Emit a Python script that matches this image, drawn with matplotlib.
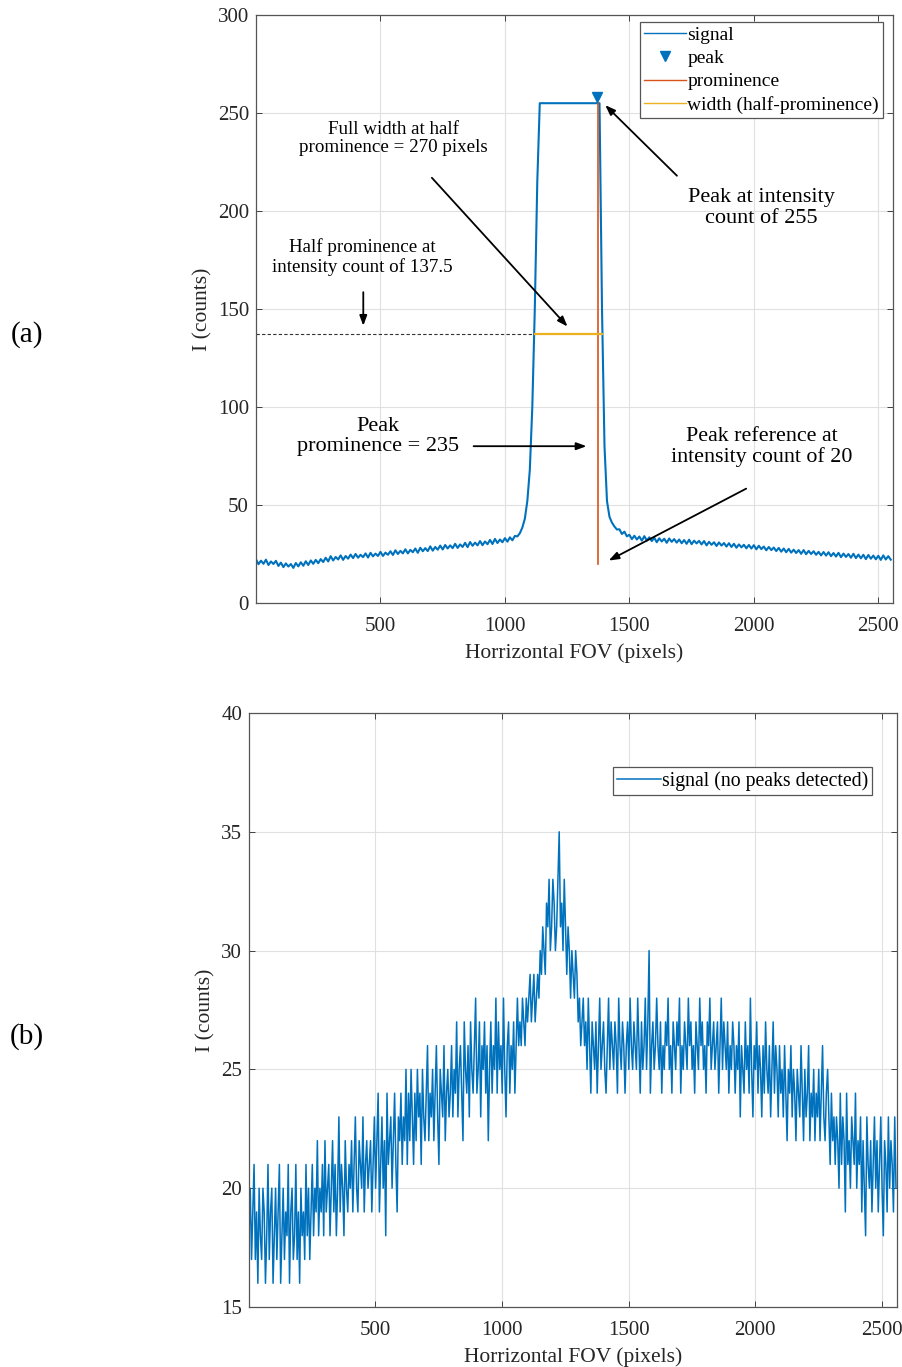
import numpy as np
import matplotlib
matplotlib.use("Agg")
import matplotlib.pyplot as plt
from matplotlib.lines import Line2D

plt.rcParams['font.family'] = ['Liberation Serif', 'DejaVu Serif']

BLUE = '#0072BD'
ORANGE = '#D95319'
YELLOW = '#EDB120'
AXC = '#262626'

# (a) line profile with a saturated peak, one sample every 10 pixels
sig_a = [
    22.3, 19.8, 21.6, 20.0, 22.1, 19.4, 21.2, 19.9, 21.5, 18.9,
    20.6, 18.3, 20.2, 18.6, 19.9, 17.9, 20.4, 18.7, 20.8, 19.0,
    21.3, 19.4, 21.7, 20.0, 22.0, 20.3, 22.4, 20.9, 23.1, 21.2,
    23.9, 21.7, 23.5, 22.2, 24.3, 22.0, 24.0, 22.6, 24.7, 22.9,
    25.0, 23.1, 24.6, 23.4, 25.3, 23.2, 25.6, 23.8, 25.2, 24.0,
    26.1, 24.0, 25.7, 24.6, 26.4, 24.5, 26.9, 25.0, 26.6, 25.3,
    27.4, 25.3, 27.1, 25.9, 27.8, 25.6, 28.2, 26.4, 28.0, 26.5,
    28.9, 26.7, 28.6, 27.2, 29.3, 27.3, 29.6, 27.8, 29.4, 28.0,
    30.2, 28.1, 29.9, 28.6, 30.7, 28.5, 31.1, 29.2, 30.8, 29.4,
    31.6, 29.5, 31.4, 30.0, 32.2, 30.1, 32.7, 30.6, 32.4, 31.0,
    33.1, 31.3, 33.5, 32.0, 34.2, 34.0, 35.6,
    38.5, 43.0, 52.0, 68.0, 100.0, 150.0, 215.0,
    255, 255, 255, 255, 255, 255, 255, 255, 255, 255,
    255, 255, 255, 255, 255, 255, 255, 255, 255, 255,
    255, 255, 255, 255, 255,
    150.0, 80.0, 52.0, 44.0, 41.0, 39.0, 37.5, 37.6, 35.2, 36.4, 34.0,
    34.8, 32.6, 34.3, 32.4, 33.9, 31.8, 34.1, 31.9, 33.5, 31.6,
    33.3, 31.0, 33.0, 31.4, 32.8, 30.7, 32.9, 31.2, 32.6, 30.8,
    32.4, 30.5, 32.1, 30.2, 32.3, 30.0, 31.8, 30.4, 31.7, 29.9,
    31.6, 29.4, 31.2, 29.7, 31.0, 29.1, 30.9, 29.3, 30.6, 28.8,
    30.5, 28.6, 30.2, 28.2, 29.9, 28.4, 29.7, 27.9, 29.6, 27.8,
    29.5, 27.4, 29.2, 27.5, 28.8, 26.9, 28.6, 27.0, 28.3, 26.5,
    28.1, 26.2, 27.8, 25.9, 27.6, 25.7, 27.2, 25.5, 27.0, 25.1,
    27.0, 24.9, 26.6, 25.0, 26.4, 24.6, 26.1, 24.3, 26.0, 24.2,
    25.9, 23.9, 25.5, 23.7, 25.6, 23.4, 25.2, 23.5, 25.0, 23.1,
    25.1, 22.9, 24.7, 22.8, 24.6, 22.4, 24.5, 22.6, 24.2, 22.3,
    24.1, 22.0, 24.3, 22.2, 23.9, 22.1,
]

# (b) line profile without a detectable peak (integer counts), one sample every 5 pixels
sig_b = [
    18, 20, 17, 19, 21, 17, 19, 16, 20, 18, 17, 20, 19, 16, 18, 21,
    17, 19, 20, 16, 18, 20, 17, 19, 21, 16, 18, 20, 17, 19, 18, 21,
    16, 19, 20, 17, 18, 21, 17, 19, 16, 20, 18, 19, 17, 21, 18, 20,
    17, 19, 21, 18, 20, 19, 22, 18, 20, 19, 21, 18, 22, 19, 20, 21,
    18, 20, 22, 19, 21, 18, 20, 23, 19, 21, 20, 18, 22, 20, 19, 21,
    20, 22, 19, 21, 23, 20, 19, 22, 21, 20, 23, 19, 21, 22, 20, 21,
    22, 19, 21, 23, 20, 22, 24, 19, 21, 23, 20, 22, 18, 24, 21, 22,
    23, 20, 22, 24, 21, 19, 23, 22, 24, 21, 23, 22, 25, 21, 24, 22,
    25, 23, 21, 24, 22, 25, 23, 24, 21, 25, 23, 22, 24, 26, 22, 24,
    23, 25, 22, 24, 26, 23, 21, 25, 24, 23, 26, 22, 24, 25, 23, 24,
    26, 23, 25, 24, 27, 23, 25, 26, 24, 22, 27, 25, 24, 26, 23, 27,
    25, 24, 26, 28, 24, 25, 27, 23, 26, 25, 27, 24, 26, 22, 25, 27,
    24, 26, 25, 28, 24, 27, 25, 26, 24, 28, 25, 23, 26, 27, 24, 26,
    25, 27, 24, 26, 28, 26, 27, 26, 28, 27, 26, 28, 27, 28, 29, 27,
    28, 29, 27, 28, 29, 28, 30, 29, 31, 30, 29, 32, 31, 33, 30, 31,
    33, 32, 30, 31, 33, 35, 31, 32, 30, 33, 31, 29, 31, 30, 28, 30,
    29, 28, 30, 29, 27, 28, 26, 27, 28, 26, 27, 25, 28, 26, 24, 27,
    26, 25, 27, 24, 26, 28, 25, 26, 27, 25, 24, 26, 28, 25, 27, 26,
    25, 27, 26, 24, 28, 26, 25, 27, 26, 24, 26, 27, 25, 28, 26, 25,
    27, 26, 25, 28, 26, 24, 27, 25, 26, 28, 25, 27, 30, 24, 26, 27,
    25, 26, 28, 26, 25, 27, 24, 26, 25, 27, 26, 28, 25, 26, 24, 27,
    26, 25, 27, 26, 28, 24, 26, 25, 27, 26, 25, 28, 26, 27, 25, 26,
    24, 27, 26, 25, 28, 26, 27, 25, 26, 24, 27, 26, 28, 25, 26, 27,
    25, 26, 27, 24, 26, 28, 25, 27, 26, 25, 27, 24, 26, 25, 27, 26,
    24, 26, 25, 27, 23, 26, 25, 24, 27, 25, 26, 24, 28, 25, 23, 26,
    25, 27, 24, 26, 25, 23, 26, 24, 27, 25, 24, 26, 23, 25, 27, 24,
    26, 25, 23, 26, 24, 25, 23, 26, 24, 22, 25, 24, 26, 23, 25, 24,
    22, 25, 24, 23, 26, 24, 22, 25, 23, 24, 26, 22, 24, 23, 25, 22,
    24, 23, 25, 22, 24, 26, 23, 22, 24, 25, 23, 21, 24, 22, 23, 21,
    23, 22, 20, 24, 21, 23, 22, 19, 24, 21, 22, 20, 23, 22, 21, 24,
    20, 22, 21, 23, 19, 22, 20, 18, 23, 21, 20, 22, 19, 21, 23, 20,
    22, 19, 21, 23, 20, 18, 22, 21, 19, 23, 20, 22, 21, 19, 23, 20,
]

peak_x, peak_y = 1376, 255
ref_y = 20
half_y = 137.5
width_x = [1122, 1392]

x_a = 1 + 10 * np.arange(len(sig_a))
x_b = 1 + 5 * np.arange(len(sig_b))


def style_axes(ax, ylim, yticks):
    ax.set_xlim(1, 2560)
    ax.set_ylim(*ylim)
    ax.set_xticks([500, 1000, 1500, 2000, 2500])
    ax.set_yticks(yticks)
    ax.grid(True, color='#e0e0e0', lw=0.8)
    ax.set_axisbelow(True)
    ax.tick_params(direction='in', top=True, right=True, length=4,
                   color=AXC, labelcolor=AXC, labelsize=15, width=0.6)
    ax.tick_params(axis='x', pad=10)
    ax.tick_params(axis='y', pad=5)
    for s in ax.spines.values():
        s.set_color('#555555')
        s.set_linewidth(0.9)
    ax.set_xlabel('Horrizontal FOV (pixels)', fontsize=15.5, color=AXC, labelpad=5)
    ax.set_ylabel('I (counts)', fontsize=15.5, color=AXC, labelpad=4)


fig = plt.figure(figsize=(9.02, 13.67), dpi=100)
W, H = 902, 1367
ax1 = fig.add_axes([256 / W, 1 - 603 / H, (893 - 256) / W, (603 - 15) / H])
ax2 = fig.add_axes([249 / W, 1 - 1307 / H, (897 - 249) / W, (1307 - 713) / H])

# ---- (a) ----
style_axes(ax1, (0, 300), [0, 50, 100, 150, 200, 250, 300])
ax1.plot([1, width_x[0]], [half_y, half_y], ls=(0, (3, 2)), color='#333333', lw=0.8)
ax1.plot(x_a, sig_a, color=BLUE, lw=1.5)
ax1.plot([peak_x, peak_x], [ref_y, peak_y], color=ORANGE, lw=1.2)
ax1.plot(width_x, [half_y, half_y], color=YELLOW, lw=1.6)
ax1.plot([peak_x - 4], [peak_y + 3], 'v', color=BLUE, ms=7)

handles = [
    Line2D([], [], color=BLUE, lw=1.0),
    Line2D([], [], color=BLUE, marker='v', ls='none', ms=7),
    Line2D([], [], color=ORANGE, lw=1.0),
    Line2D([], [], color=YELLOW, lw=1.0),
]
labels = ['signal', 'peak', 'prominence', 'width (half-prominence)']
leg = ax1.legend(handles, labels, loc='upper right', bbox_to_anchor=(0.984, 0.988),
                 borderaxespad=0, fontsize=14, fancybox=False, edgecolor='#555555',
                 framealpha=1, borderpad=0.2, labelspacing=0.3, handlelength=2.2,
                 handletextpad=0.05)
leg.get_frame().set_linewidth(0.9)

arrow = dict(arrowstyle='-|>,head_length=0.6,head_width=0.22', color='black', lw=1.3)
ax1.annotate('', xy=(1260, 140), xytext=(700, 218), arrowprops=arrow)
ax1.text(552, 237, 'Full width at half\nprominence = 270 pixels', ha='center',
         va='center', fontsize=13.7, linespacing=1.15)
ax1.annotate('', xy=(432, 140), xytext=(432, 160), arrowprops=arrow)
ax1.text(428, 176.5, 'Half prominence at\nintensity count of 137.5', ha='center',
         va='center', fontsize=13.7, linespacing=1.15)
ax1.annotate('', xy=(1396, 255), xytext=(1700, 217), arrowprops=arrow)
ax1.text(2032, 201.5, 'Peak at intensity\ncount of 255', ha='center',
         va='center', fontsize=16, linespacing=1.1)
ax1.annotate('', xy=(1340, 80), xytext=(864, 80), arrowprops=arrow)
ax1.text(492, 85, 'Peak\nprominence = 235', ha='center', va='center',
         fontsize=16, linespacing=1.1)
ax1.annotate('', xy=(1408, 21), xytext=(1980, 59), arrowprops=arrow)
ax1.text(2032, 79.6, 'Peak reference at\nintensity count of 20', ha='center',
         va='center', fontsize=15.8, linespacing=1.1)

# ---- (b) ----
style_axes(ax2, (15, 40), [15, 20, 25, 30, 35, 40])
ax2.plot(x_b, sig_b, color=BLUE, lw=1.1, label='signal (no peaks detected)')
leg2 = ax2.legend(loc='upper right', bbox_to_anchor=(0.9614, 0.909), borderaxespad=0,
                  fontsize=14.2, fancybox=False, edgecolor='#555555', framealpha=1,
                  borderpad=0.2, handlelength=2.2, handletextpad=0.05)
leg2.get_frame().set_linewidth(0.9)

fig.text(27 / W, 1 - 335 / H, '(a)', fontsize=21, ha='center', va='center')
fig.text(27 / W, 1 - 1037 / H, '(b)', fontsize=21, ha='center', va='center')

fig.savefig('out.png', dpi=100)
